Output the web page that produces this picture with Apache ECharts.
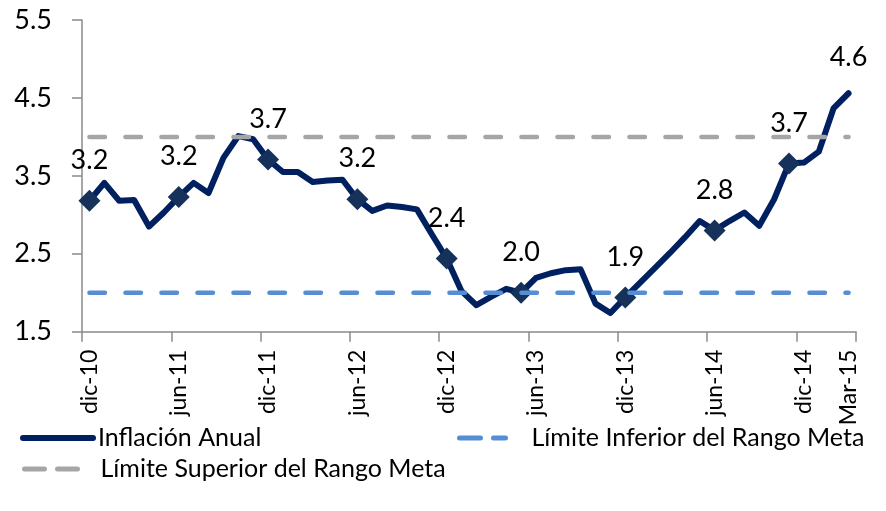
<!DOCTYPE html>
<html>
<head>
<meta charset="utf-8">
<script src="https://cdn.jsdelivr.net/npm/echarts@6/dist/echarts.min.js"></script>
<style>
html,body{margin:0;padding:0;background:#fff;}
#chart{width:886px;height:511px;}
</style>
</head>
<body>
<div id="chart"></div>
<script>
// ---- data ----
const categories = [
  'dic-10',
  'ene-11','feb-11','mar-11','abr-11','may-11','jun-11','jul-11','ago-11','sep-11','oct-11','nov-11','dic-11',
  'ene-12','feb-12','mar-12','abr-12','may-12','jun-12','jul-12','ago-12','sep-12','oct-12','nov-12','dic-12',
  'ene-13','feb-13','mar-13','abr-13','may-13','jun-13','jul-13','ago-13','sep-13','oct-13','nov-13','dic-13',
  'ene-14','feb-14','mar-14','abr-14','may-14','jun-14','jul-14','ago-14','sep-14','oct-14','nov-14','dic-14',
  'ene-15','feb-15','Mar-15'
];
const inflation = [
  3.18,
  3.41, 3.18, 3.19, 2.85, 3.03, 3.23, 3.41, 3.28, 3.73, 4.01, 3.97, 3.71,
  3.55, 3.55, 3.42, 3.44, 3.45, 3.20, 3.05, 3.12, 3.10, 3.07, 2.75, 2.44,
  2.02, 1.84, 1.95, 2.05, 2.00, 2.19, 2.25, 2.29, 2.30, 1.86, 1.74, 1.94,
  2.13, 2.32, 2.51, 2.71, 2.92, 2.80, 2.92, 3.03, 2.86, 3.20, 3.66, 3.67,
  3.81, 4.37, 4.56
];
const markerIdx = [0, 6, 12, 18, 24, 29, 36, 42, 47];
const labelOnlyIdx = [51];
const upperLimit = 4.0;
const lowerLimit = 2.0;
const yTicks = [1.5, 2.5, 3.5, 4.5, 5.5];
const seriesNames = ['Inflación Anual', 'Límite Inferior del Rango Meta', 'Límite Superior del Rango Meta'];

// ---- chart ----
const FONT = 'Lato';
const chart = echarts.init(document.getElementById('chart'), null, {renderer: 'canvas'});
const lastIdx = categories.length - 1;
const markerData = markerIdx.map(i => ({value: [i, inflation[i]]}))
  .concat(labelOnlyIdx.map(i => ({value: [i, inflation[i]], symbolSize: 0, label: {distance: 22}})));

const axisColor = '#8a8a8a';
const legendText = (padLeft) => ({fontSize: 25, color: '#000', fontFamily: FONT, lineHeight: 28, padding: [0, 0, 0, padLeft]});
const hiddenSymbol = {color: 'rgba(0,0,0,0)', borderWidth: 0, opacity: 0};
const option = {
  animation: false,
  backgroundColor: '#ffffff',
  textStyle: {fontFamily: FONT},
  grid: {left: 82, right: 30, top: 20, bottom: 179.3, containLabel: false},
  xAxis: {
    type: 'category',
    data: categories,
    boundaryGap: true,
    axisLine: {lineStyle: {color: axisColor, width: 1.5}},
    axisTick: {show: true, length: 10, alignWithLabel: false,
      interval: (i) => i % 6 === 0,
      lineStyle: {color: axisColor, width: 1.5}},
    axisLabel: {
      rotate: 90, margin: 18, fontSize: 23, color: '#000', fontFamily: FONT,
      interval: (i) => i % 6 === 0 || i === lastIdx
    },
    splitLine: {show: false}
  },
  yAxis: {
    type: 'value',
    min: yTicks[0], max: yTicks[yTicks.length - 1], interval: yTicks[1] - yTicks[0],
    axisLine: {show: true, lineStyle: {color: axisColor, width: 1.5}},
    axisTick: {show: true, length: 10, lineStyle: {color: axisColor, width: 1.5}},
    axisLabel: {fontSize: 27, color: '#000', margin: 30, fontFamily: FONT,
      formatter: v => v.toFixed(1)},
    splitLine: {show: false}
  },
  legend: [
    {
      data: [{name: seriesNames[0]}],
      left: 20, top: 424, itemWidth: 70, itemHeight: 14, padding: 0, selectedMode: false,
      itemStyle: hiddenSymbol,
      lineStyle: {width: 6, cap: 'round', color: '#002060', type: 'solid'},
      textStyle: legendText(0)
    },
    {
      data: [{name: seriesNames[1]}],
      left: 457, top: 424, itemWidth: 46, itemHeight: 14, padding: 0, selectedMode: false,
      itemStyle: hiddenSymbol,
      lineStyle: {width: 5, cap: 'round', color: '#558ED5', type: [21, 13]},
      textStyle: legendText(21)
    },
    {
      data: [{name: seriesNames[2]}],
      left: 22, top: 455, itemWidth: 56, itemHeight: 14, padding: 0, selectedMode: false,
      itemStyle: hiddenSymbol,
      lineStyle: {width: 5, cap: 'round', color: '#A6A6A6', type: [20, 13]},
      textStyle: legendText(15)
    }
  ],
  series: [
    {
      name: seriesNames[0], type: 'line', data: inflation, symbol: 'none', z: 2,
      lineStyle: {color: '#002060', width: 6, cap: 'round', join: 'round'},
      itemStyle: {color: '#002060'}
    },
    {
      name: 'marcas', type: 'scatter', data: markerData, symbol: 'diamond', symbolSize: 22, z: 3,
      itemStyle: {color: '#16325A', opacity: 1},
      label: {show: true, position: 'top', distance: 16, fontSize: 27, color: '#000', fontFamily: FONT,
        formatter: p => p.value[1].toFixed(1)}
    },
    {
      name: seriesNames[1], type: 'line', symbol: 'none', z: 4,
      data: [[0, lowerLimit], [lastIdx, lowerLimit]],
      lineStyle: {color: '#558ED5', width: 4.5, type: [15.5, 20.5], cap: 'round'},
      itemStyle: {color: '#558ED5'}
    },
    {
      name: seriesNames[2], type: 'line', symbol: 'none', z: 4,
      data: [[0, upperLimit], [lastIdx, upperLimit]],
      lineStyle: {color: '#A6A6A6', width: 4.5, type: [15.5, 20.5], cap: 'round'},
      itemStyle: {color: '#A6A6A6'}
    }
  ]
};
chart.setOption(option);
</script>
</body>
</html>
